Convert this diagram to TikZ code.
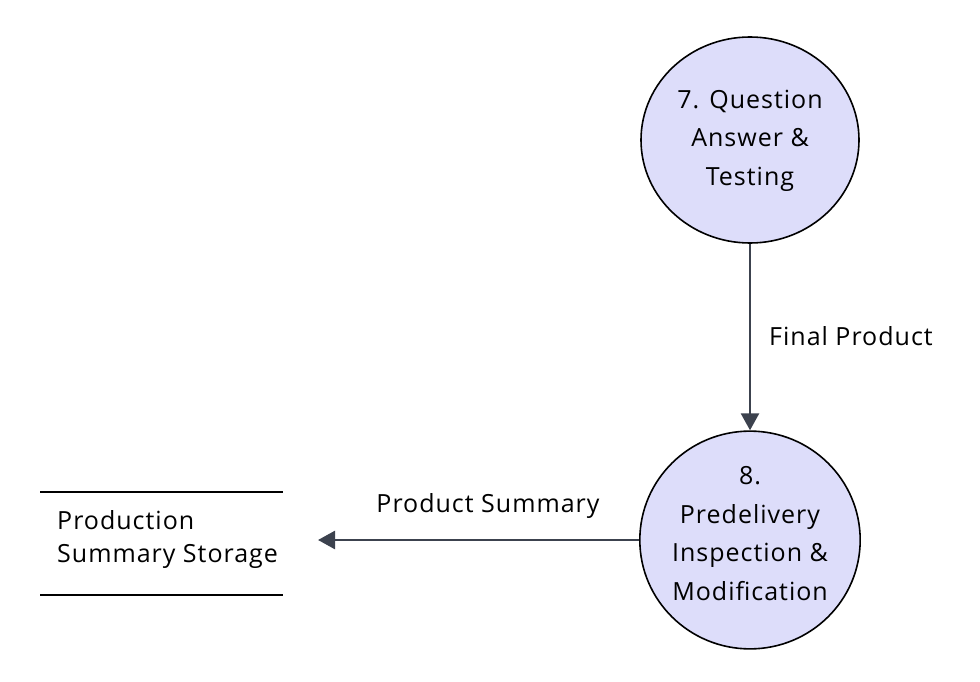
\documentclass[tikz,border=0pt]{standalone}
\usepackage{fontspec}
\setmainfont{Open Sans}[LetterSpace=4]
\usetikzlibrary{shapes.geometric,arrows.meta}
\definecolor{procfill}{RGB}{221,221,250}
\definecolor{linkcol}{RGB}{60,66,78}
\newcommand{\shiftedtext}[2]{\raisebox{#1}[\height][\depth]{\begin{tabular}{@{}c@{}}#2\end{tabular}}}
\tikzset{
  proc/.style={ellipse, draw=black, line width=1.6pt, fill=procfill, minimum width=218pt, minimum height=206pt, inner sep=0pt, align=center, font=\fontsize{25}{38.5}\selectfont},
  flow/.style={draw=linkcol, line width=2.6pt, -{Triangle[length=17pt,width=18pt]}},
  lbl/.style={font=\fontsize{25}{33}\selectfont, text=black, inner sep=0pt},
  storeline/.style={draw=black, line width=1.6pt}
}
\begin{document}
\begin{tikzpicture}[x=1pt,y=-1pt]
\useasboundingbox (0,0) rectangle (980,682);
\node[proc] (p7) at (750,140) {\shiftedtext{1pt}{7. Question\\Answer \&\\Testing}};
\node[proc] (p8) at (750,540) {\shiftedtext{5pt}{8.\\Predelivery\\Inspection \&\\Modification}};
\coordinate (s1) at (40,492);
\coordinate (s2) at (283,492);
\coordinate (s3) at (40,595);
\coordinate (s4) at (283,595);
\draw[storeline] (s1) -- (s2);
\draw[storeline] (s3) -- (s4);
\node[lbl, anchor=west, align=left] (store) at (57,540) {Production\\Summary Storage};
\coordinate (storein) at (318,540);
\draw[flow] (p7.south) -- (p8.north);
\draw[flow] (p8.west) -- (storein);
\node[lbl, anchor=west] (l1) at (769,336) {Final Product};
\node[lbl] (l2) at (488,506) {Product Summary};
\end{tikzpicture}
\end{document}
